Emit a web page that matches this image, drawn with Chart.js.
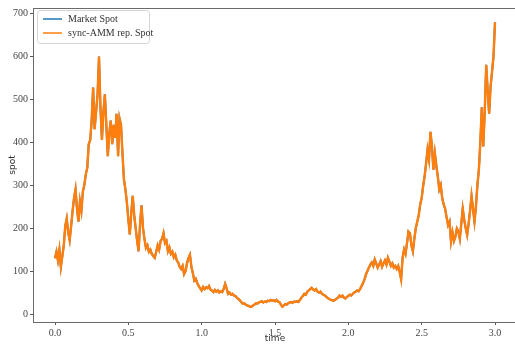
<!DOCTYPE html>
<html>
<head>
<meta charset="utf-8">
<script src="https://cdn.jsdelivr.net/npm/chart.js@4/dist/chart.umd.min.js"></script>
<style>
  html, body { margin: 0; padding: 0; background: #fff; overflow: hidden; }
  #wrap { width: 520px; height: 348px; position: relative; }
</style>
</head>
<body>
<div id="wrap"><canvas id="c"></canvas></div>
<script>
// Spot price path sampled every 0.01 time units, t = 0.00 ... 3.00
const timeStep = 0.01;
const marketSpot = [
  130,145,125,150,110,135,160,205,222,190,
  172,205,240,270,290,245,215,262,240,285,
  300,325,340,395,405,450,527,430,470,510,
  599,480,405,470,511,440,367,420,450,395,
  440,410,466,367,455,440,374,313,290,260,
  220,185,235,275,230,200,170,146,210,253,
  200,175,154,160,145,150,140,135,131,145,
  160,150,170,175,188,165,170,146,155,140,
  145,132,138,125,120,110,105,112,93,100,
  118,130,138,110,95,78,82,72,65,60,
  55,63,58,62,60,65,57,55,51,56,
  52,55,50,53,51,58,70,60,47,50,
  45,47,43,42,38,35,32,28,24,25,
  22,20,19,17,17,20,22,25,24,27,
  28,30,27,29,28,31,30,33,31,32,
  30,33,29,28,22,17,20,23,22,25,
  27,28,26,29,28,30,28,33,38,42,
  47,45,52,55,58,61,57,55,58,52,
  50,52,47,45,43,40,37,35,33,32,
  31,33,36,38,43,40,43,38,36,40,
  42,45,43,47,50,52,55,53,58,65,
  72,80,92,100,108,115,120,112,127,118,
  108,115,123,110,118,125,115,131,122,112,
  118,108,112,105,112,98,81,131,150,140,
  165,192,188,160,146,175,200,215,230,255,
  270,298,320,350,382,360,424,390,336,374,
  345,320,290,300,270,255,245,225,207,215,
  169,190,170,180,199,192,175,210,245,220,
  200,184,210,240,275,245,215,250,300,336,
  400,481,390,470,580,520,466,530,564,600,
  679
];
// The replicating AMM tracks the market spot exactly
const ammSpot = marketSpot.slice();

const xTickValues = [0, 0.5, 1.0, 1.5, 2.0, 2.5, 3.0];
const xTickLabels = ['0.0', '0.5', '1.0', '1.5', '2.0', '2.5', '3.0'];
const yTickValues = [0, 100, 200, 300, 400, 500, 600, 700];
const seriesNames = ['Market Spot', 'sync-AMM rep. Spot'];
const seriesColors = ['#1f77b4', '#ff7f0e'];

const toPoints = arr => arr.map((v, i) => ({ x: +(i * timeStep).toFixed(2), y: v }));

const tickFont = { family: 'Liberation Serif', size: 10 };
const titleFont = { family: 'DejaVu Sans', size: 9 };

// Box frame around the plot area, like a classic axes box
const framePlugin = {
  id: 'frame',
  afterDatasetsDraw(chart) {
    const { ctx, chartArea: a } = chart;
    ctx.save();
    ctx.strokeStyle = '#6a6a6a';
    ctx.lineWidth = 1;
    ctx.strokeRect(Math.round(a.left) + 0.5, Math.round(a.top) + 0.5,
                   Math.round(a.right - a.left), Math.round(a.bottom - a.top));
    ctx.restore();
  }
};

// Legend box drawn inside the upper-left corner of the plot area
const boxLegendPlugin = {
  id: 'boxLegend',
  afterDraw(chart) {
    const { ctx, chartArea: a } = chart;
    const x0 = a.left + 4, y0 = a.top + 2, w = 112, h = 33, r = 3;
    ctx.save();
    ctx.fillStyle = 'rgba(255,255,255,0.85)';
    ctx.strokeStyle = '#d4d4d4';
    ctx.lineWidth = 1;
    ctx.beginPath();
    ctx.roundRect(x0 + 0.5, y0 + 0.5, w, h, r);
    ctx.fill();
    ctx.stroke();
    ctx.font = '10px "Liberation Serif"';
    ctx.textBaseline = 'middle';
    chart.data.datasets.forEach((ds, i) => {
      const y = y0 + 9 + i * 14;
      ctx.strokeStyle = ds.borderColor;
      ctx.lineWidth = 1.5;
      ctx.beginPath();
      ctx.moveTo(x0 + 6, y);
      ctx.lineTo(x0 + 25, y);
      ctx.stroke();
      ctx.fillStyle = '#333';
      ctx.fillText(ds.label, x0 + 31, y);
    });
    ctx.restore();
  }
};

new Chart(document.getElementById('c'), {
  type: 'line',
  data: {
    datasets: [
      { label: seriesNames[0], data: toPoints(marketSpot), borderColor: seriesColors[0],
        borderWidth: 2, pointRadius: 0, tension: 0, order: 2 },
      { label: seriesNames[1], data: toPoints(ammSpot), borderColor: seriesColors[1],
        borderWidth: 2.4, pointRadius: 0, tension: 0, order: 1 }
    ]
  },
  options: {
    responsive: true,
    maintainAspectRatio: false,
    animation: false,
    layout: { padding: { top: 3, right: 3, left: 0, bottom: 0 } },
    plugins: { legend: { display: false }, tooltip: { enabled: false } },
    scales: {
      x: {
        type: 'linear',
        min: -0.15,
        max: 3.15,
        border: { display: false },
        grid: { drawOnChartArea: false, drawTicks: true, tickLength: 3, color: '#555' },
        ticks: {
          font: tickFont, color: '#444', padding: 2, maxRotation: 0,
          callback: (v) => {
            const k = xTickValues.findIndex(t => Math.abs(t - v) < 1e-9);
            return k >= 0 ? xTickLabels[k] : '';
          }
        },
        afterBuildTicks: s => { s.ticks = xTickValues.map(v => ({ value: v })); },
        afterFit: s => { s.height = 26; },
        title: { display: true, text: 'time', font: titleFont, color: '#333',
                 padding: { top: 0, bottom: 4 } }
      },
      y: {
        type: 'linear',
        min: -18.5,
        max: 712,
        border: { display: false },
        grid: { drawOnChartArea: false, drawTicks: true, tickLength: 3, color: '#555' },
        ticks: { font: tickFont, color: '#444', padding: 2 },
        afterBuildTicks: s => { s.ticks = yTickValues.map(v => ({ value: v })); },
        afterFit: s => { s.width = 33; },
        title: { display: true, text: 'spot', font: titleFont, color: '#333',
                 padding: { top: 7, bottom: 0 } }
      }
    }
  },
  plugins: [framePlugin, boxLegendPlugin]
});
</script>
</body>
</html>
